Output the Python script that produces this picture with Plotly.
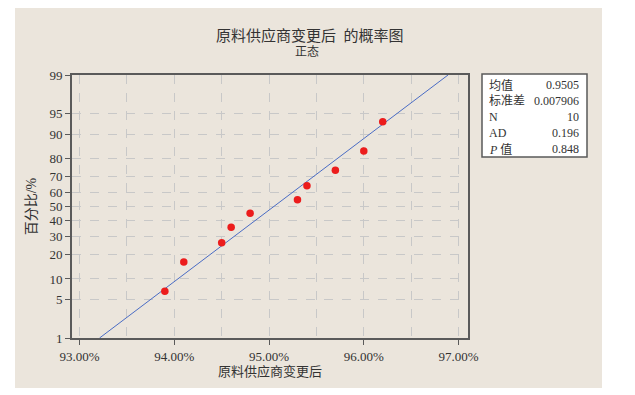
import plotly.graph_objects as go
from statistics import NormalDist

# ---- data ----
x_values = [0.939, 0.941, 0.945, 0.946, 0.948, 0.953, 0.954, 0.957, 0.960, 0.962]
percent_values = [6.7, 16.3, 26.0, 35.6, 45.2, 54.8, 64.4, 74.0, 83.7, 93.3]
mean_value = 0.9505
std_value = 0.007906
n_value = 10
ad_value = 0.196
p_value = 0.848
y_tick_percents = [1, 5, 10, 20, 30, 40, 50, 60, 70, 80, 90, 95, 99]
x_tick_vals = [0.93, 0.94, 0.95, 0.96, 0.97]
x_tick_text = ["93.00%", "94.00%", "95.00%", "96.00%", "97.00%"]

nd = NormalDist()
def z(p):
    return nd.inv_cdf(p / 100.0)

y_z = [z(p) for p in percent_values]
line_p = [1, 99]
line_x = [mean_value + z(p) * std_value for p in line_p]
line_y = [z(p) for p in line_p]

FONT = "Liberation Serif, Noto Sans CJK SC"
BEIGE = "#ebe5dc"
FRAME = "#5a5a5a"
TXT = "#333333"

# page body has an 8px margin; work in window pixel coords and shift
OFF = 8
W, H = 635 - OFF, 395 - OFF
L, T = 72 - OFF, 75 - OFF
PR, PB = 468 - OFF, 338 - OFF
R, B = W - PR, H - PB
pw, ph = PR - L, PB - T

def px(xp):
    return (xp - OFF - L) / pw

def py(yp):
    return (PB - (yp - OFF)) / ph

fig = go.Figure()
fig.add_trace(go.Scatter(x=line_x, y=line_y, mode="lines",
                         line=dict(color="#4a6cc4", width=1), hoverinfo="skip"))
fig.add_trace(go.Scatter(x=x_values, y=y_z, mode="markers",
                         marker=dict(color="#ec1c1c", size=7.5)))

fig.update_layout(
    width=W, height=H,
    margin=dict(l=L, r=R, t=T, b=B, autoexpand=False),
    paper_bgcolor="white", plot_bgcolor="white",
    showlegend=False,
    font=dict(family=FONT, size=13, color=TXT),
    xaxis=dict(range=[0.9292, 0.9710], tickvals=x_tick_vals, ticktext=x_tick_text,
               showgrid=True, gridcolor="#c8c8c8", griddash="dash", gridwidth=1,
               minor=dict(tick0=0.93, dtick=0.005, showgrid=True, gridcolor="#c8c8c8",
                          griddash="dash", gridwidth=1, ticks=""),
               ticks="outside", ticklen=5, tickcolor=FRAME, tickwidth=1,
               showline=True, linecolor=FRAME, linewidth=2, mirror=True,
               zeroline=False, tickfont=dict(size=13, color=TXT),
               title=dict(text="原料供应商变更后", font=dict(size=13, color=TXT), standoff=4)),
    yaxis=dict(range=[z(1), z(99)], tickvals=[z(p) for p in y_tick_percents],
               ticktext=[str(p) for p in y_tick_percents],
               showgrid=True, gridcolor="#c8c8c8", griddash="dash", gridwidth=1,
               ticks="outside", ticklen=5, tickcolor=FRAME, tickwidth=1,
               showline=True, linecolor=FRAME, linewidth=2, mirror=True,
               zeroline=False, tickfont=dict(size=13, color=TXT),
               title=dict(text="百分比/%", font=dict(size=14, color=TXT), standoff=10)),
)

shapes = [
    dict(type="rect", xref="paper", yref="paper", layer="below",
         x0=px(15), x1=px(602), y0=py(388), y1=py(5),
         fillcolor=BEIGE, line=dict(width=0)),
    dict(type="rect", xref="paper", yref="paper",
         x0=px(482), x1=px(587), y0=py(157), y1=py(74),
         fillcolor="white", line=dict(color=FRAME, width=1.5)),
]
fig.update_layout(shapes=shapes)

ann = [
    dict(text="原料供应商变更后  的概率图", x=px(310), y=py(35), font=dict(size=15, color=TXT)),
    dict(text="正态", x=px(307), y=py(52), font=dict(size=12, color=TXT)),
]
rows = [("均值", f"{mean_value:.4f}"), ("标准差", f"{std_value:.6f}"), ("N", str(n_value)),
        ("AD", f"{ad_value:.3f}"), ("<i>P</i> 值", f"{p_value:.3f}")]
for i, (lab, val) in enumerate(rows):
    yy = py(85 + 16 * i)
    ann.append(dict(text=lab, x=px(487), y=yy, xanchor="left", font=dict(size=12, color=TXT)))
    ann.append(dict(text=val, x=px(581), y=yy, xanchor="right", font=dict(size=12, color=TXT)))
for a in ann:
    a.setdefault("xanchor", "center")
    a.update(xref="paper", yref="paper", yanchor="middle", showarrow=False)
fig.update_layout(annotations=ann)

fig.write_html("out.html")
